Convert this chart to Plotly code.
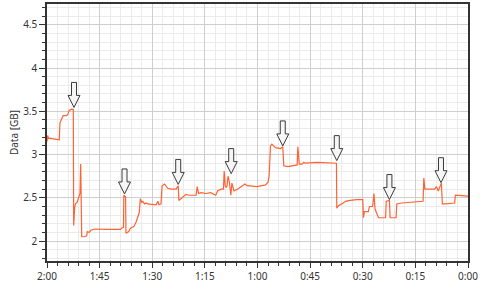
import plotly.graph_objects as go

# time remaining (minutes) and data (GB)
minutes = [120.0, 119.8, 119.6, 117.2, 116.8, 116.5, 116.3, 116.0, 115.8, 115.4, 114.4, 114.0, 113.7, 113.0, 112.5,
           112.4, 112.1, 111.9, 111.4, 110.9, 110.6, 110.4, 110.1, 109.4, 108.7, 108.5, 108.0, 107.5, 106.4, 103.0,
           99.0, 98.8, 98.2, 98.1, 97.6, 97.5, 96.7, 96.2, 95.2, 94.6, 94.1, 93.7, 93.4, 93.0, 92.7, 92.2, 91.7,
           91.3, 88.9, 88.4, 88.1, 87.5, 87.2, 86.5, 85.6, 84.6, 83.2, 82.6, 82.4, 81.8, 81.3, 80.4, 79.4, 77.5,
           77.2, 76.8, 76.1, 74.7, 73.3, 71.9, 71.4, 70.4, 69.7, 69.5, 69.2, 68.9, 68.7, 68.4, 68.0, 67.6, 67.3,
           67.0, 66.7, 65.7, 64.3, 63.6, 62.9, 60.1, 57.7, 57.0, 56.7, 56.3, 55.9, 54.9, 53.4, 52.8, 52.5, 51.4,
           48.7, 48.5, 48.1, 47.3, 46.8, 46.4, 43.0, 40.2, 37.5, 37.4, 36.9, 36.0, 34.9, 33.6, 31.7, 30.0, 29.8,
           29.5, 28.4, 28.1, 27.2, 26.8, 26.5, 26.0, 25.5, 23.5, 23.3, 22.4, 22.2, 20.5, 20.3, 18.9, 16.5, 14.7,
           12.8, 12.6, 12.3, 9.5, 9.0, 8.5, 8.0, 7.6, 7.3, 6.6, 3.8, 3.6, 0.0]
data_gb = [3.15, 3.22, 3.19, 3.18, 3.17, 3.17, 3.37, 3.40, 3.42, 3.45, 3.45, 3.47, 3.51, 3.525, 3.52,
           2.18, 2.39, 2.43, 2.45, 2.53, 2.55, 2.89, 2.05, 2.05, 2.06, 2.11, 2.10, 2.125, 2.14, 2.135,
           2.135, 2.15, 2.16, 2.53, 2.51, 2.09, 2.11, 2.15, 2.17, 2.22, 2.30, 2.33, 2.49, 2.45, 2.46, 2.43, 2.44,
           2.43, 2.42, 2.46, 2.42, 2.43, 2.64, 2.66, 2.61, 2.60, 2.60, 2.64, 2.47, 2.49, 2.51, 2.54, 2.53, 2.53,
           2.63, 2.55, 2.56, 2.55, 2.56, 2.53, 2.58, 2.60, 2.60, 2.81, 2.64, 2.62, 2.64, 2.75, 2.68, 2.53, 2.67,
           2.62, 2.58, 2.60, 2.64, 2.66, 2.64, 2.63, 2.65, 2.68, 2.75, 3.10, 3.12, 3.08, 3.07, 3.09, 2.87, 2.86,
           2.88, 3.09, 2.89, 2.89, 2.91, 2.90, 2.91, 2.905, 2.90, 2.38, 2.41, 2.43, 2.46, 2.47, 2.48, 2.48, 2.27,
           2.34, 2.34, 2.40, 2.40, 2.55, 2.37, 2.32, 2.27, 2.27, 2.46, 2.47, 2.27, 2.27, 2.43, 2.44, 2.45, 2.46,
           2.46, 2.73, 2.60, 2.60, 2.63, 2.58, 2.64, 2.67, 2.43, 2.43, 2.44, 2.53, 2.52]

# marked events (arrow tips)
arrow_minutes = [112.3, 97.9, 82.6, 67.5, 52.8, 37.4, 22.4, 7.7]
arrow_gb = [3.545, 2.545, 2.655, 2.78, 3.10, 2.93, 2.48, 2.675]

tick_minutes = [120, 105, 90, 75, 60, 45, 30, 15, 0]
tick_labels = ["2:00", "1:45", "1:30", "1:15", "1:00", "0:45", "0:30", "0:15", "0:00"]
y_ticks = [2, 2.5, 3, 3.5, 4, 4.5]
y_labels = ["2", "2.5", "3", "3.5", "4", "4.5"]

fig = go.Figure()
fig.add_trace(go.Scatter(x=minutes, y=data_gb, mode="lines",
                         line=dict(color="#FF6233", width=1.2), hoverinfo="skip"))

# hollow block-arrow path in pixel units relative to tip
arrow_path = "M0,0 L-6,12 L-2.5,12 L-2.5,25 L2.5,25 L2.5,12 L6,12 Z"
for xm, yg in zip(arrow_minutes, arrow_gb):
    fig.add_shape(type="path", xref="x", yref="y", xsizemode="pixel", ysizemode="pixel",
                  xanchor=xm, yanchor=yg, path=arrow_path,
                  line=dict(color="#3a3a3a", width=1), fillcolor="#f6f6f6", layer="above")

font = dict(family="Noto Sans, Open Sans, sans-serif", size=10, color="#333333")
fig.update_layout(
    width=480, height=285,
    margin=dict(l=47, r=10, t=2, b=24),
    paper_bgcolor="white", plot_bgcolor="white",
    showlegend=False, font=font,
    xaxis=dict(range=[120, 0], tickvals=tick_minutes, ticktext=tick_labels,
               ticklabeloverflow="allow",
               showgrid=True, gridcolor="#cfcfcf", gridwidth=1,
               showline=True, linecolor="#333333", linewidth=1.5, mirror=True,
               ticks="outside", ticklen=5, tickcolor="#333333", zeroline=False,
               minor=dict(tick0=0, dtick=3, showgrid=True, gridcolor="#ebebeb",
                          ticks="outside", ticklen=3, tickcolor="#333333")),
    yaxis=dict(range=[1.77, 4.74], tickvals=y_ticks, ticktext=y_labels,
               showgrid=True, gridcolor="#cfcfcf", gridwidth=1,
               showline=True, linecolor="#333333", linewidth=1.5, mirror=True,
               ticks="outside", ticklen=6, tickcolor="#333333", zeroline=False,
               title=dict(text="Data [GB]", standoff=3, font=dict(size=10, color="#333333")),
               minor=dict(tick0=0, dtick=0.1, showgrid=True, gridcolor="#ebebeb",
                          ticks="outside", ticklen=3, tickcolor="#333333")),
)
fig.write_html("out.html")
